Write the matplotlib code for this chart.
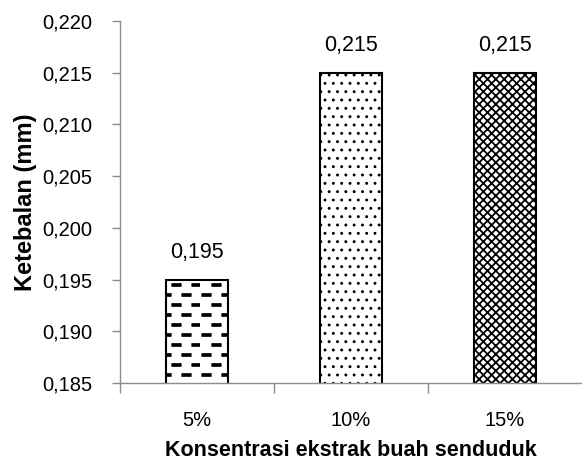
import matplotlib
matplotlib.use("Agg")
import matplotlib.pyplot as plt
from matplotlib import hatch as mhatch
from matplotlib.path import Path


categories = ["5%", "10%", "15%"]
values = [0.195, 0.215, 0.215]
value_labels = ["0,195", "0,215", "0,215"]
y_ticks = [0.185, 0.190, 0.195, 0.200, 0.205, 0.210, 0.215, 0.220]
y_tick_labels = ["0,185", "0,190", "0,195", "0,200", "0,205", "0,210", "0,215", "0,220"]
hatches = ["-", "..", "xxxx"]
hatch_widths = [0.9, 0.9, 1.3]


class DashRows(mhatch.HatchPatternBase):
    """Staggered short dashes, used in place of the plain '-' hatch."""

    def __init__(self, hatch, density):
        self.active = hatch.count("-") > 0
        self.rows = 10
        self.cols = 5
        self.num_vertices = self.rows * self.cols * 5 if self.active else 0

    def set_vertices_and_codes(self, vertices, codes):
        i = 0
        h = 0.012
        for r in range(self.rows):
            y = (r + 0.5) / self.rows
            off = 0.0 if r % 2 == 0 else 0.5 / self.cols
            for c in range(self.cols):
                x0 = c / self.cols + off + 0.02
                x1 = x0 + 0.45 / self.cols
                pts = [(x0, y - h), (x1, y - h), (x1, y + h), (x0, y + h), (x0, y - h)]
                for k, p in enumerate(pts):
                    vertices[i] = p
                    codes[i] = Path.MOVETO if k == 0 else (Path.CLOSEPOLY if k == 4 else Path.LINETO)
                    i += 1


mhatch._hatch_types = [DashRows if t is mhatch.HorizontalHatch else t
                       for t in mhatch._hatch_types]

plt.rcParams["font.family"] = ["Liberation Sans", "DejaVu Sans"]
plt.rcParams["hatch.linewidth"] = 0.9

AXIS_GREY = "#8c8c8c"
TICK_FS = 14.5
VAL_FS = 15.5

fig = plt.figure(figsize=(5.82, 4.68), dpi=100)
ax = fig.add_axes([0.2062, 0.1816, 0.7938, 0.7734])

x = range(len(categories))
bars = ax.bar(x, values, width=0.40, color="white", edgecolor="black",
              linewidth=1.5)
for b, h, hw in zip(bars, hatches, hatch_widths):
    b.set_hatch(h)
    if hasattr(b, "set_hatch_linewidth"):
        b.set_hatch_linewidth(hw)

for b, lab in zip(bars, value_labels):
    ax.annotate(lab, (b.get_x() + b.get_width() / 2, b.get_height()),
                xytext=(0, 12), textcoords="offset points",
                ha="center", va="bottom", fontsize=VAL_FS)

ax.set_xlim(-0.5, 2.5)
ax.set_ylim(0.185, 0.220)
ax.set_yticks(y_ticks)
ax.set_yticklabels(y_tick_labels)
ax.set_xticks(list(x))
ax.set_xticklabels(categories)
ax.set_xticks([-0.5, 0.5, 1.5], minor=True)

ax.tick_params(axis="y", direction="out", length=6, width=1, color=AXIS_GREY,
               labelsize=TICK_FS, pad=14)
ax.tick_params(axis="x", which="major", length=0, labelsize=TICK_FS, pad=20)
ax.tick_params(axis="x", which="minor", direction="out", length=7, width=1,
               color=AXIS_GREY)

for s in ("top", "right"):
    ax.spines[s].set_visible(False)
for s in ("left", "bottom"):
    ax.spines[s].set_color(AXIS_GREY)
    ax.spines[s].set_linewidth(1)

ax.set_ylabel("Ketebalan (mm)", fontsize=17, fontweight="bold", labelpad=4)
ax.set_xlabel("Konsentrasi ekstrak buah senduduk", fontsize=15.5,
              fontweight="bold", labelpad=7)

fig.savefig("out.png", dpi=100)
